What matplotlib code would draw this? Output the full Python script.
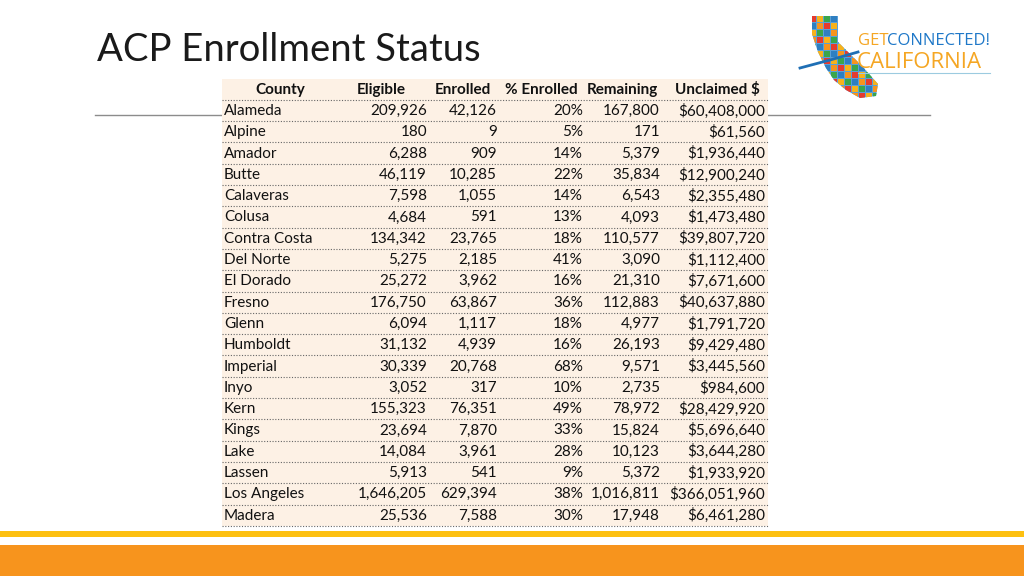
import matplotlib
matplotlib.use("Agg")
import matplotlib.pyplot as plt
from matplotlib.patches import Rectangle, Polygon
import numpy as np

counties = ["Alameda", "Alpine", "Amador", "Butte", "Calaveras", "Colusa", "Contra Costa",
            "Del Norte", "El Dorado", "Fresno", "Glenn", "Humboldt", "Imperial", "Inyo",
            "Kern", "Kings", "Lake", "Lassen", "Los Angeles", "Madera"]
eligible = [209926, 180, 6288, 46119, 7598, 4684, 134342, 5275, 25272, 176750, 6094,
            31132, 30339, 3052, 155323, 23694, 14084, 5913, 1646205, 25536]
enrolled = [42126, 9, 909, 10285, 1055, 591, 23765, 2185, 3962, 63867, 1117, 4939,
            20768, 317, 76351, 7870, 3961, 541, 629394, 7588]
pct_enrolled = [20, 5, 14, 22, 14, 13, 18, 41, 16, 36, 18, 16, 68, 10, 49, 33, 28, 9, 38, 30]
remaining = [167800, 171, 5379, 35834, 6543, 4093, 110577, 3090, 21310, 112883, 4977,
             26193, 9571, 2735, 78972, 15824, 10123, 5372, 1016811, 17948]
unclaimed = [60408000, 61560, 1936440, 12900240, 2355480, 1473480, 39807720, 1112400,
             7671600, 40637880, 1791720, 9429480, 3445560, 984600, 28429920, 5696640,
             3644280, 1933920, 366051960, 6461280]
headers = ["County", "Eligible", "Enrolled", "% Enrolled", "Remaining", "Unclaimed $"]

FONT = "Lato"
fig = plt.figure(figsize=(10.24, 5.76), dpi=100)
ax = fig.add_axes([0, 0, 1, 1])
ax.set_xlim(0, 1024)
ax.set_ylim(576, 0)
ax.axis("off")

# title
ax.text(97, 50, "ACP Enrollment Status", fontsize=27.5, family=FONT, color="#1a1a1a",
        va="center", ha="left")

# gray rule
ax.plot([95, 930], [115, 115], color="#8c8c8c", lw=1.0, zorder=1)

# table background
x0, x1 = 222, 768
y_top, row_h = 79, 21.3
n = len(counties)
ax.add_patch(Rectangle((x0, y_top), x1 - x0, row_h * (n + 1), facecolor="#fdf1e5",
                       edgecolor="none", zorder=2))

hdr_x = [280, 381, 463, 541, 622, 717]
for hx, h in zip(hdr_x, headers):
    ax.text(hx, y_top + row_h / 2, h, fontsize=11, family=FONT, weight="bold",
            ha="center", va="center", color="#111111", zorder=3)

right_x = [427, 497, 583, 660, 765]
def fmt(v):
    return f"{v:,}"
for i in range(n):
    yc = y_top + row_h * (i + 1) + row_h / 2
    vals = [fmt(eligible[i]), fmt(enrolled[i]), f"{pct_enrolled[i]}%", fmt(remaining[i]),
            "$" + fmt(unclaimed[i])]
    ax.text(224, yc, counties[i], fontsize=11, family=FONT, ha="left", va="center",
            color="#111111", zorder=3)
    for rx, v in zip(right_x, vals):
        ax.text(rx, yc, v, fontsize=11, family=FONT, ha="right", va="center",
                color="#111111", zorder=3)
    ly = y_top + row_h * (i + 1) - 0.5
    ax.plot([x0, x1], [ly, ly], color="#666666", lw=0.8, ls=(0, (1, 1.5)), zorder=3)
ly = y_top + row_h * (n + 1)
ax.plot([x0, x1], [ly, ly], color="#666666", lw=0.8, ls=(0, (1, 1.5)), zorder=3)

# bottom bars
ax.add_patch(Rectangle((0, 531), 1024, 6, facecolor="#fdc010", edgecolor="none"))
ax.add_patch(Rectangle((0, 545), 1024, 31, facecolor="#f7941d", edgecolor="none"))

# logo: California shape
ca = np.array([[812, 16], [838, 16], [838, 42], [862, 66], [878, 84], [876, 96],
               [860, 98], [846, 90], [834, 80], [826, 68], [818, 52], [812, 34]])
ax.add_patch(Polygon(ca, closed=True, facecolor="#5aa0d8", edgecolor="none", zorder=2))
cols = ["#e63b2e", "#f7b21b", "#3aa64b", "#2f7fc1", "#f7941d"]
k = 0
clip = Polygon(ca, closed=True, transform=ax.transData)
for yy in range(16, 100, 7):
    for xx in range(810, 882, 7):
        r = Rectangle((xx, yy), 6, 6, facecolor=cols[k % 5], edgecolor="none", zorder=3)
        r.set_clip_path(clip)
        ax.add_patch(r)
        k += 1
    k += 2
ax.plot([800, 830, 858], [68, 60, 52], color="#1f6fb5", lw=2, zorder=4)
ax.text(858, 41, "GET", fontsize=12, family="Open Sans", color="#f5a623", ha="left",
        va="center", zorder=4)
ax.text(887, 41, "CONNECTED!", fontsize=12, family="Open Sans", color="#1f78c8",
        ha="left", va="center", zorder=4)
ax.text(857, 62, "CALIFORNIA", fontsize=16, family="Open Sans", color="#f5a623",
        ha="left", va="center", zorder=4)
ax.plot([858, 990], [73, 73], color="#9ccbe0", lw=0.8, zorder=4)

fig.savefig("out.png", dpi=100)
